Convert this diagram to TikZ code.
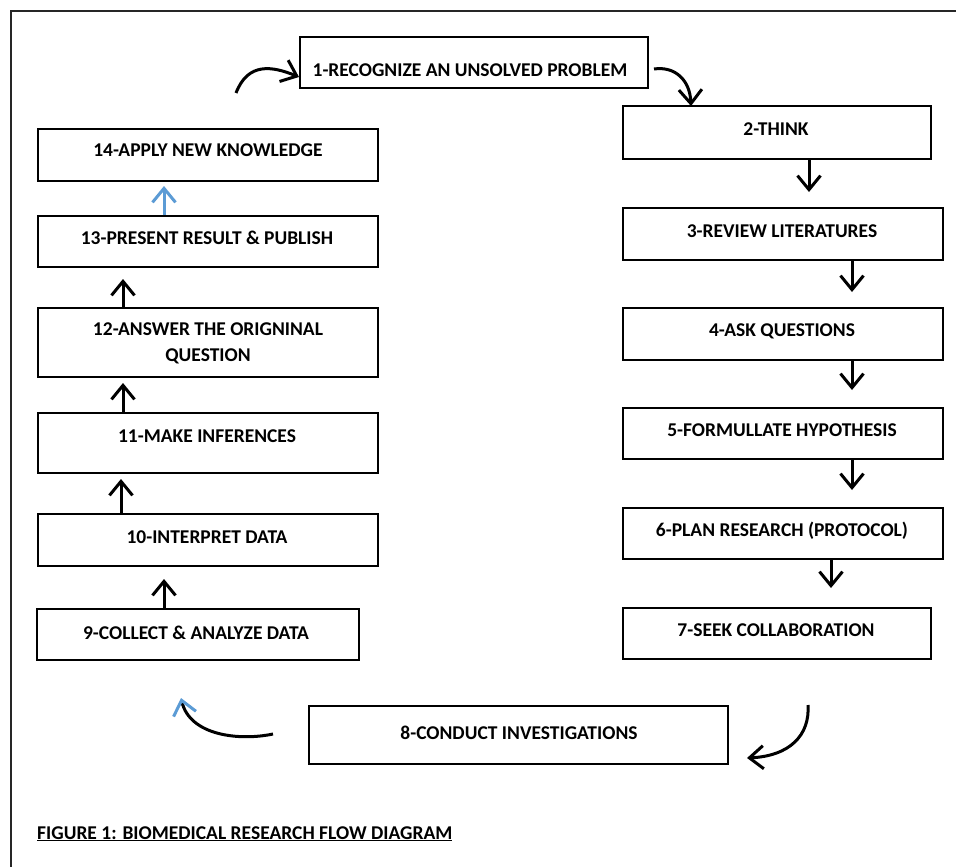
\documentclass[tikz,border=0pt]{standalone}
\usepackage{fontspec}
\setmainfont{Carlito}
\usetikzlibrary{arrows.meta}
\definecolor{flowblue}{HTML}{5B9BD5}
\tikzset{
  stepbox/.style={draw=black, line width=2pt, rectangle, inner sep=0pt, anchor=north west},
  steptext/.style={font=\fontsize{19.5}{26}\selectfont\bfseries, inner sep=0pt, align=center},
  flow/.style={line width=3pt, -{Straight Barb[length=14pt,width=23pt]}},
  flowblue/.style={flow, draw=flowblue},
  bluetip/.style={line width=3pt, -{Straight Barb[length=14pt,width=23pt,color=flowblue]}},
  frame/.style={line width=1.5pt, draw=black!85}
}
\begin{document}
\begin{tikzpicture}[x=1pt, y=-1pt]
\useasboundingbox (0,0) rectangle (956,867);
\fill[white] (0,0) rectangle (956,867);
% outer frame
\draw[frame] (956,11) -- (11,11) -- (11,867);

% step boxes
\node[stepbox, minimum width=348pt, minimum height=51pt] (b1) at (299,36) {};
\node[stepbox, minimum width=308pt, minimum height=53pt] (b2) at (622,105) {};
\node[stepbox, minimum width=320pt, minimum height=52pt] (b3) at (622,207) {};
\node[stepbox, minimum width=320pt, minimum height=52pt] (b4) at (622,307) {};
\node[stepbox, minimum width=320pt, minimum height=51pt] (b5) at (622,407) {};
\node[stepbox, minimum width=320pt, minimum height=51pt] (b6) at (622,507) {};
\node[stepbox, minimum width=308pt, minimum height=51pt] (b7) at (622,607) {};
\node[stepbox, minimum width=419pt, minimum height=58pt] (b8) at (308,705) {};
\node[stepbox, minimum width=322pt, minimum height=51pt] (b9) at (36,608) {};
\node[stepbox, minimum width=340pt, minimum height=52pt] (b10) at (37,513) {};
\node[stepbox, minimum width=340pt, minimum height=60pt] (b11) at (37,412) {};
\node[stepbox, minimum width=340pt, minimum height=69pt] (b12) at (37,307) {};
\node[stepbox, minimum width=340pt, minimum height=51pt] (b13) at (37,215) {};
\node[stepbox, minimum width=340pt, minimum height=52pt] (b14) at (37,128) {};

% step labels
\node[steptext] (t1) at (470,70.5) {1-RECOGNIZE AN UNSOLVED PROBLEM};
\node[steptext] (t2) at (776,129) {2-THINK};
\node[steptext] (t3) at (782,231) {3-REVIEW LITERATURES};
\node[steptext] (t4) at (782,331) {4-ASK QUESTIONS};
\node[steptext] (t5) at (782,430) {5-FORMULLATE HYPOTHESIS};
\node[steptext] (t6) at (782,531) {6-PLAN RESEARCH (PROTOCOL)};
\node[steptext] (t7) at (776,630) {7-SEEK COLLABORATION};
\node[steptext] (t8) at (519,733) {8-CONDUCT INVESTIGATIONS};
\node[steptext] (t9) at (196,633) {9-COLLECT \& ANALYZE DATA};
\node[steptext] (t10) at (207,537) {10-INTERPRET DATA};
\node[steptext] (t11) at (207,436) {11-MAKE INFERENCES};
\node[steptext] (t12) at (208,343) {12-ANSWER THE ORIGNINAL\\QUESTION};
\node[steptext] (t13) at (207,238) {13-PRESENT RESULT \& PUBLISH};
\node[steptext] (t14) at (208,150) {14-APPLY NEW KNOWLEDGE};

% free ends of the curved connectors
\coordinate (c14) at (236,93);
\coordinate (c7) at (808,705);
\coordinate (c8e) at (747,758);
\coordinate (c8w) at (273,734);
\coordinate (c9) at (181,698);

% right column, downwards
\draw[flow] ([xshift=5pt,yshift=-6.5pt]b1.east) .. controls (675,66) and (690,80) .. ([xshift=-86pt,yshift=-1pt]b2.north);
\draw[flow] ([xshift=32pt]b2.south) -- ([xshift=26pt,yshift=15pt]b3.north);
\draw[flow] ([xshift=69pt]b3.south) -- ([xshift=69pt,yshift=15pt]b4.north);
\draw[flow] ([xshift=69pt]b4.south) -- ([xshift=69pt,yshift=17pt]b5.north);
\draw[flow] ([xshift=69pt]b5.south) -- ([xshift=69pt,yshift=17pt]b6.north);
\draw[flow] ([xshift=48pt]b6.south) -- ([xshift=54pt,yshift=19pt]b7.north);
\draw[flow] (c7) .. controls (810,735) and (790,756) .. (c8e);

% bottom turn and left column, upwards
\draw[bluetip] (c8w) .. controls (240,741) and (190,736) .. (c9);
\draw[flow] ([xshift=-34pt]b9.north) -- ([xshift=-44pt,yshift=-12pt]b10.south);
\draw[flow] ([xshift=-87pt]b10.north) -- ([xshift=-87pt,yshift=-5pt]b11.south);
\draw[flow] ([xshift=-85pt]b11.north) -- ([xshift=-85pt,yshift=-5pt]b12.south);
\draw[flow] ([xshift=-85pt]b12.north) -- ([xshift=-85pt,yshift=-11pt]b13.south);
\draw[flowblue] ([xshift=-44pt]b13.north) -- ([xshift=-44pt,yshift=-4pt]b14.south);
\draw[flow] (c14) .. controls (248,62) and (272,66) .. ([yshift=-14.5pt]b1.west);

% caption
\node[anchor=base west, font=\fontsize{19.5}{24}\selectfont\bfseries, inner sep=0pt] (cap) at (37,839) {\underline{FIGURE 1: BIOMEDICAL RESEARCH FLOW DIAGRAM}};
\end{tikzpicture}
\end{document}
